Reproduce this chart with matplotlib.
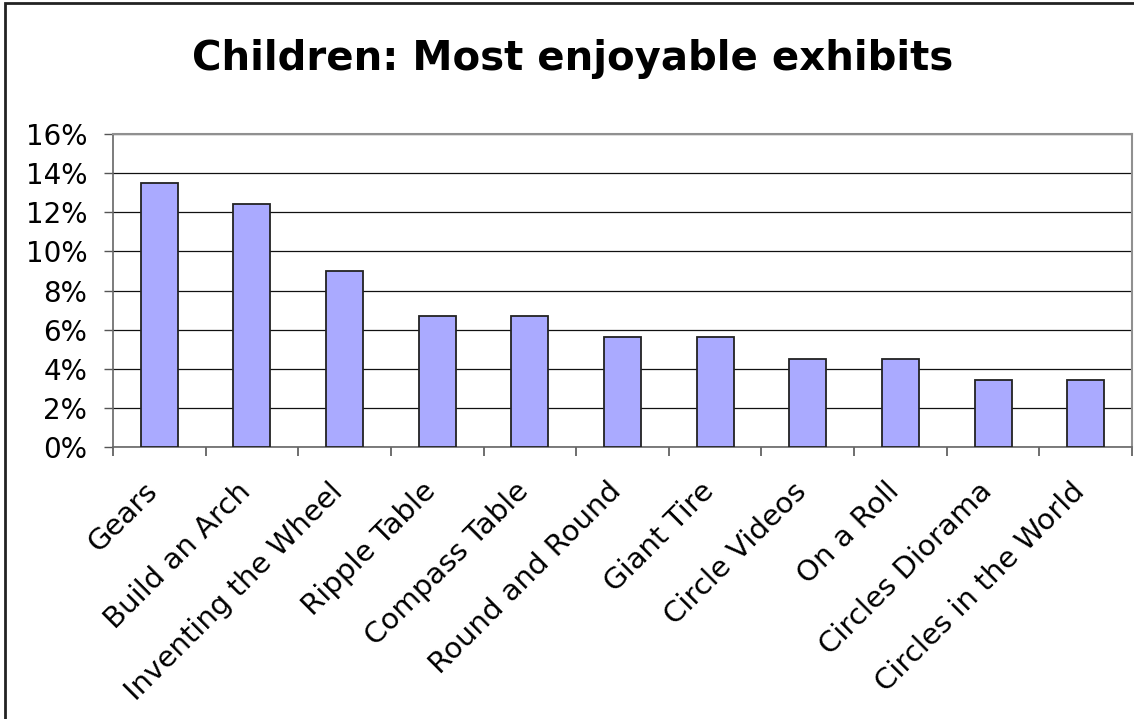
import matplotlib; matplotlib.use("Agg")
import matplotlib.pyplot as plt
from matplotlib.patches import Rectangle
from matplotlib.ticker import FuncFormatter, FixedLocator

plt.rcParams["font.family"] = ["DejaVu Sans"]

exhibits = ["Gears", "Build an Arch", "Inventing the Wheel", "Ripple Table",
            "Compass Table", "Round and Round", "Giant Tire", "Circle Videos",
            "On a Roll", "Circles Diorama", "Circles in the World"]
share = [0.135, 0.124, 0.090, 0.067, 0.067, 0.056, 0.056, 0.045, 0.045, 0.034, 0.034]
yticks = [0, 0.02, 0.04, 0.06, 0.08, 0.10, 0.12, 0.14, 0.16]

fig = plt.figure(figsize=(11.34, 7.19), dpi=100)
ax = fig.add_axes([113/1134, 1-447/719, (1132-113)/1134, (447-134)/719])

x = range(len(exhibits))
ax.bar(x, share, width=0.4, color="#aaaaff", edgecolor="#222222", linewidth=1.3, zorder=3)

ax.set_xlim(-0.5, len(exhibits)-0.5)
ax.set_ylim(0, 0.16)
ax.set_yticks(yticks)
ax.yaxis.set_major_formatter(FuncFormatter(lambda v, p: f"{v*100:.0f}%"))
ax.yaxis.grid(True, color="#111111", linewidth=0.9, zorder=0)
ax.tick_params(axis="y", length=6.5, width=1, color="#555555", labelsize=20, pad=12)

# tick marks on the category boundaries, labels at the centres
ax.xaxis.set_major_locator(FixedLocator([i - 0.5 for i in range(len(exhibits)+1)]))
ax.xaxis.set_major_formatter(FuncFormatter(lambda v, p: ""))
ax.xaxis.set_minor_locator(FixedLocator(list(x)))
ax.set_xticklabels(exhibits, minor=True, rotation=45, ha="right", va="baseline",
                   rotation_mode="anchor", fontsize=21)
ax.tick_params(axis="x", which="major", length=6.5, width=1.2, color="#555555")
ax.tick_params(axis="x", which="minor", length=0, pad=33)

for s in ["top", "right"]:
    ax.spines[s].set_color("#909090")
    ax.spines[s].set_linewidth(1.5)
for s in ["left", "bottom"]:
    ax.spines[s].set_color("#666666")
    ax.spines[s].set_linewidth(1.2)

fig.text(0.505, 1-70/719, "Children: Most enjoyable exhibits", ha="center", va="baseline",
         fontsize=29, fontweight="bold")

fig.patches.append(Rectangle((5/1134, -0.1), 1.2, 1.1 - 3/719, transform=fig.transFigure,
                             fill=False, edgecolor="#222222", linewidth=2))

fig.savefig("out.png", dpi=100)
